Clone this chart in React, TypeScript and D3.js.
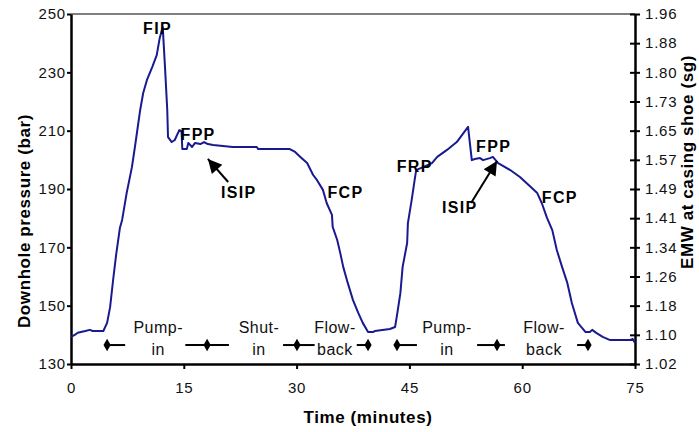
import { useRef, useEffect } from "react";
import * as d3 from "d3";

// Downhole pressure record (time in minutes, pressure in bar)
const times = [
  0, 0.5, 0.9, 1.9, 2.5, 2.9, 4.3, 4.8, 5.2, 5.6, 6.0, 6.5, 6.8, 7.4, 8.1, 8.5,
  9.2, 9.6, 10.1, 10.8, 11.4, 11.8, 12.2, 12.5, 12.8, 12.9, 13.4, 13.8, 14.4,
  14.7, 14.8, 15.4, 15.6, 16.1, 16.5, 17.2, 17.7, 18.2, 18.9, 21.5, 24.7, 24.9,
  29.1, 29.8, 30.5, 31.4, 32.2, 32.7, 33.5, 34.0, 34.7, 34.8, 35.4, 35.8, 36.2,
  36.8, 37.5, 38.2, 38.8, 39.5, 40.2, 40.4, 42.4, 43.1, 43.4, 43.8, 44.1, 44.7,
  44.8, 45.3, 45.7, 45.9, 48.0, 48.7, 50.0, 51.3, 52.8, 53.3, 53.7, 54.4, 54.8,
  55.7, 56.1, 56.8, 58.4, 59.7, 61.0, 62.0, 62.6, 63.3, 64.0, 64.6, 65.3, 66.0,
  66.6, 67.4, 68.4, 69.0, 69.3, 69.9, 70.7, 71.7, 74.3, 74.7, 75.0,
];
const pressures = [
  139.3, 140.0, 140.7, 141.3, 141.7, 141.3, 141.3, 144.1, 149.5, 158.8, 167.4,
  176.6, 179.4, 188.6, 197.5, 204.4, 217.1, 222.9, 227.4, 231.8, 235.9, 241.8,
  245.5, 231.8, 217.1, 207.8, 206.1, 206.8, 210.2, 209.8, 203.7, 203.7, 205.8,
  204.4, 205.8, 205.4, 206.1, 205.4, 205.1, 204.4, 204.4, 203.7, 203.7, 202.7,
  201.0, 198.9, 194.8, 193.1, 189.7, 185.2, 181.1, 177.0, 172.5, 168.1, 163.3,
  157.8, 151.9, 147.5, 144.1, 141.0, 141.0, 141.3, 142.0, 142.7, 147.5, 154.3,
  163.3, 171.5, 178.3, 186.2, 193.1, 196.5, 198.9, 201.0, 203.4, 206.1, 211.3,
  199.9, 200.3, 200.6, 199.9, 200.6, 201.0, 198.9, 196.5, 194.1, 191.0, 188.6,
  185.2, 180.1, 175.9, 169.1, 163.3, 157.8, 150.9, 144.1, 141.0, 141.0, 141.7,
  140.6, 139.3, 138.2, 138.2, 138.6, 137.2,
];

const xTicks = [0, 15, 30, 45, 60, 75];
const yTicks = [130, 150, 170, 190, 210, 230, 250];
const emwTickBars = [130, 140, 150, 160, 170, 180, 190, 200, 210, 220, 230, 240, 250];
const emwLabels = [
  "1.02", "1.10", "1.18", "1.26", "1.34", "1.41", "1.49",
  "1.57", "1.65", "1.73", "1.80", "1.88", "1.96",
];

// point labels on the curve
const labelTexts = ["FIP", "FPP", "ISIP", "FCP", "FRP", "FPP", "ISIP", "FCP"];
const labelTimes = [11.5, 16.9, 22.3, 36.5, 45.7, 56.2, 51.7, 65.0];
const labelPressures = [243.1, 206.8, 186.9, 186.9, 195.8, 202.7, 181.8, 185.2];

// ISIP arrows: [tail time, tail bar, tip time, tip bar]
const arrows = [
  [20.9, 192.4, 18.2, 200.3],
  [53.2, 185.2, 56.65, 199.6],
];

// operation phases along the bottom
const phaseTop = ["Pump-", "Shut-", "Flow-", "Pump-", "Flow-"];
const phaseBottom = ["in", "in", "back", "in", "back"];
const phaseTimes = [11.6, 25.0, 35.1, 50.0, 62.9];
const phaseDots = [4.8, 18.1, 30.05, 39.5, 43.35, 56.65, 68.75];
const phaseSegments = [
  [4.8, 7.2], [15.2, 21.0], [28.2, 32.4], [38.0, 39.5],
  [43.35, 46.0], [54.0, 57.7], [67.3, 68.75],
];
const phaseBar = 136.5;

const App = () => {
  const svgRef = useRef(null);
  const width = 699;
  const height = 432;
  const margin = { top: 14, right: 64, bottom: 68, left: 71 };
  const font = "'Liberation Sans', Arial, sans-serif";

  useEffect(() => {
    const svg = d3.select(svgRef.current);
    svg.selectAll("*").remove();

    const x = d3.scaleLinear().domain([0, 75]).range([margin.left, width - margin.right]);
    const y = d3.scaleLinear().domain([130, 250]).range([height - margin.bottom, margin.top]);

    svg
      .append("defs")
      .append("marker")
      .attr("id", "head")
      .attr("viewBox", "0 0 10 10")
      .attr("refX", 10)
      .attr("refY", 5)
      .attr("markerUnits", "userSpaceOnUse")
      .attr("markerWidth", 17)
      .attr("markerHeight", 14)
      .attr("orient", "auto")
      .append("path")
      .attr("d", "M0,0L10,5L0,10z")
      .attr("fill", "#000");

    // top frame line
    svg
      .append("line")
      .attr("x1", x(0))
      .attr("x2", x(75))
      .attr("y1", y(250))
      .attr("y2", y(250))
      .attr("stroke", "#808080")
      .attr("stroke-width", 2);

    // axes
    const xAxis = svg
      .append("g")
      .attr("transform", `translate(0,${y(130)})`)
      .call(d3.axisBottom(x).tickValues(xTicks).tickSize(5).tickSizeOuter(0).tickPadding(13));
    xAxis.select(".domain").attr("stroke-width", 2.5);
    xAxis.selectAll(".tick line").attr("stroke-width", 2);

    const yAxis = svg
      .append("g")
      .attr("transform", `translate(${x(0)},0)`)
      .call(d3.axisLeft(y).tickValues(yTicks).tickSize(4).tickSizeOuter(0).tickPadding(1));
    yAxis.select(".domain").attr("stroke-width", 2.5);
    yAxis.selectAll(".tick line").attr("stroke-width", 2);

    const rAxis = svg
      .append("g")
      .attr("transform", `translate(${x(75)},0)`)
      .call(
        d3
          .axisRight(y)
          .tickValues(emwTickBars)
          .tickFormat((d, i) => emwLabels[i])
          .tickSize(5)
          .tickSizeOuter(0)
          .tickPadding(5)
      );
    rAxis.select(".domain").attr("stroke-width", 2.5);
    rAxis.selectAll(".tick line").attr("x1", -5).attr("stroke-width", 2);

    svg
      .selectAll(".tick text")
      .attr("font-family", font)
      .attr("font-size", 15)
      .attr("letter-spacing", 0.8)
      .attr("fill", "#111");

    // curve
    const points = times.map((t, i) => [t, pressures[i]]);
    const line = d3
      .line()
      .x((d) => x(d[0]))
      .y((d) => y(d[1]));
    svg
      .append("path")
      .datum(points)
      .attr("d", line)
      .attr("fill", "none")
      .attr("stroke", "#1a1a90")
      .attr("stroke-width", 2)
      .attr("stroke-linejoin", "round");

    // point labels
    svg
      .selectAll(".plabel")
      .data(labelTexts)
      .join("text")
      .attr("class", "plabel")
      .attr("x", (d, i) => x(labelTimes[i]))
      .attr("y", (d, i) => y(labelPressures[i]))
      .attr("text-anchor", "middle")
      .attr("font-family", font)
      .attr("font-weight", "bold")
      .attr("font-size", 16)
      .attr("letter-spacing", 1.3)
      .text((d) => d);

    // ISIP arrows
    svg
      .selectAll(".arrow")
      .data(arrows)
      .join("line")
      .attr("class", "arrow")
      .attr("x1", (d) => x(d[0]))
      .attr("y1", (d) => y(d[1]))
      .attr("x2", (d) => x(d[2]))
      .attr("y2", (d) => y(d[3]))
      .attr("stroke", "#000")
      .attr("stroke-width", 2)
      .attr("marker-end", "url(#head)");

    // phases
    svg
      .selectAll(".pseg")
      .data(phaseSegments)
      .join("line")
      .attr("class", "pseg")
      .attr("x1", (d) => x(d[0]))
      .attr("x2", (d) => x(d[1]))
      .attr("y1", y(phaseBar))
      .attr("y2", y(phaseBar))
      .attr("stroke", "#000")
      .attr("stroke-width", 2);

    svg
      .selectAll(".pdot")
      .data(phaseDots)
      .join("path")
      .attr("class", "pdot")
      .attr("transform", (d) => `translate(${x(d)},${y(phaseBar)})`)
      .attr("d", d3.symbol(d3.symbolDiamond, 45))
      .attr("fill", "#000");

    const phaseText = svg
      .selectAll(".ptext")
      .data(phaseTop)
      .join("text")
      .attr("class", "ptext")
      .attr("text-anchor", "middle")
      .attr("font-family", font)
      .attr("font-size", 16)
      .attr("letter-spacing", 0.5)
      .attr("fill", "#111");
    phaseText
      .append("tspan")
      .attr("x", (d, i) => x(phaseTimes[i]))
      .attr("y", y(phaseBar) - 12)
      .text((d) => d);
    phaseText
      .append("tspan")
      .attr("x", (d, i) => x(phaseTimes[i]))
      .attr("y", y(phaseBar) + 10)
      .text((d, i) => phaseBottom[i]);

    // axis titles
    const title = (text, tx, ty, rot) =>
      svg
        .append("text")
        .attr("transform", `translate(${tx},${ty}) rotate(${rot})`)
        .attr("text-anchor", "middle")
        .attr("font-family", font)
        .attr("font-weight", "bold")
        .attr("font-size", 17)
        .attr("letter-spacing", 0.6)
        .text(text);

    title("Time (minutes)", 368, 423, 0);
    title("Downhole pressure (bar)", 30, 221, -90);
    title("EMW at casing shoe (sg)", 693, 162, -90);
  }, []);

  return (
    <svg
      ref={svgRef}
      width={width}
      height={height}
      style={{ position: "absolute", left: 0, top: 0, background: "#fff" }}
    />
  );
};

export default App;
